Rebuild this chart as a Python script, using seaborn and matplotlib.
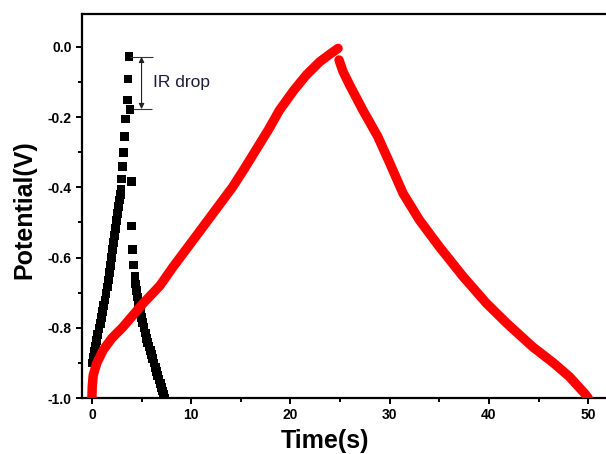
import matplotlib
matplotlib.use("Agg")
import matplotlib.pyplot as plt
import seaborn as sns
from matplotlib.ticker import MultipleLocator

# black squares: fast charge / discharge
black_t = [0.0, 0.12, 0.24, 0.36, 0.48, 0.6, 0.72, 0.84, 0.96, 1.08, 1.2, 1.31, 1.42, 1.53,
           1.64, 1.75, 1.86, 1.97, 2.08, 2.18, 2.28, 2.38, 2.48, 2.57, 2.66, 2.75, 2.84, 2.92,
           2.99, 3.09, 3.22, 3.32, 3.39, 3.56, 3.63, 3.73,
           3.83, 3.95, 4.0, 4.1, 4.16, 4.33,
           4.42, 4.51, 4.6, 4.7, 4.8, 4.9, 5.0, 5.12, 5.24, 5.37, 5.5, 5.62, 5.75, 5.88,
           6.0, 6.12, 6.25, 6.38, 6.5, 6.62, 6.75, 6.88, 7.0, 7.1, 7.2, 7.3]
black_v = [-0.900, -0.884, -0.868, -0.852, -0.836, -0.820, -0.803, -0.787, -0.770, -0.753,
           -0.737, -0.721, -0.703, -0.684, -0.664, -0.643, -0.622, -0.600, -0.578, -0.558,
           -0.537, -0.516, -0.495, -0.475, -0.455, -0.436, -0.420, -0.405,
           -0.376, -0.340, -0.300, -0.254, -0.205, -0.151, -0.091, -0.028,
           -0.177, -0.384, -0.510, -0.576, -0.621, -0.654,
           -0.675, -0.694, -0.712, -0.727, -0.742, -0.757, -0.771, -0.786, -0.800, -0.815,
           -0.830, -0.841, -0.853, -0.864, -0.875, -0.887, -0.900, -0.912, -0.925, -0.936,
           -0.947, -0.958, -0.970, -0.980, -0.990, -1.000]

# red circles: slow charge
red_charge_t = [0.0, 0.03, 0.13, 0.5, 1.14, 2.0, 3.15, 5.17, 6.85, 8.19, 10.2, 11.2, 12.7, 14.2,
                15.4, 16.6, 17.8, 18.9, 20.3, 21.6, 22.96, 24.0, 24.8]
red_charge_v = [-1.0, -0.968, -0.935, -0.9, -0.863, -0.83, -0.797, -0.73, -0.68, -0.626, -0.55,
                -0.512, -0.455, -0.398, -0.345, -0.29, -0.235, -0.18, -0.125, -0.08, -0.042,
                -0.02, -0.004]
# red circles: slow discharge
red_dis_t = [24.9, 25.3, 26.0, 27.3, 28.8, 30.0, 31.35, 33.0, 35.0, 37.4, 39.75, 41.8, 44.4,
             46.5, 48.1, 49.65, 50.0]
red_dis_v = [-0.037, -0.07, -0.11, -0.18, -0.255, -0.33, -0.417, -0.493, -0.569, -0.654, -0.73,
             -0.787, -0.854, -0.90, -0.939, -0.987, -1.0]

sns.set_style("ticks")
plt.rcParams['font.family'] = ['Liberation Sans', 'DejaVu Sans']
plt.rcParams['text.color'] = 'black'
plt.rcParams['axes.labelcolor'] = 'black'
plt.rcParams['xtick.color'] = 'black'
plt.rcParams['ytick.color'] = 'black'

fig = plt.figure(figsize=(6.06, 4.54), dpi=100)
ax = fig.add_axes([82 / 606, 1 - 398 / 454, 524 / 606, 384 / 454])

sns.scatterplot(x=black_t, y=black_v, marker='s', s=40, color='black', edgecolor='none',
                linewidth=0, ax=ax, zorder=2)
for t, v in [(red_charge_t, red_charge_v), (red_dis_t, red_dis_v)]:
    sns.lineplot(x=t, y=v, sort=False, estimator=None, color='red', lw=6.8,
                 solid_capstyle='round', solid_joinstyle='round', ax=ax, zorder=3)

# IR drop marker
ir_top = max(black_v)
ir_bottom = black_v[black_v.index(ir_top) + 1]
ax.hlines(ir_top, 3.85, 6.2, color='#333333', lw=0.8)
ax.hlines(ir_bottom, 4.1, 6.1, color='#333333', lw=0.8)
ax.annotate('', xy=(5.0, ir_bottom), xytext=(5.0, ir_top),
            arrowprops=dict(arrowstyle='<|-|>', color='#222222', lw=0.8,
                            mutation_scale=8, shrinkA=0, shrinkB=0))
ax.text(6.15, (ir_top + ir_bottom) / 2, 'IR drop', fontsize=12.5, color='#1c1c3a',
        va='center', ha='left')

ax.set_xlim(-1, 51.8)
ax.set_ylim(-1.0, 0.094)
ax.xaxis.set_major_locator(MultipleLocator(10))
ax.xaxis.set_minor_locator(MultipleLocator(5))
ax.yaxis.set_major_locator(MultipleLocator(0.2))
ax.yaxis.set_minor_locator(MultipleLocator(0.1))
ax.yaxis.set_major_formatter(matplotlib.ticker.FormatStrFormatter('%.1f'))

ax.tick_params(which='major', direction='out', length=4.5, width=1.4, labelsize=10, pad=3)
ax.tick_params(which='minor', direction='out', length=3, width=1.4)
for lab in ax.get_xticklabels() + ax.get_yticklabels():
    lab.set_fontweight('bold')

ax.spines['right'].set_visible(False)
for s in ['left', 'bottom', 'top']:
    ax.spines[s].set_linewidth(1.6)
    ax.spines[s].set_color('black')

ax.set_xlabel('Time(s)', fontsize=18, fontweight='bold')
ax.set_ylabel('Potential(V)', fontsize=18, fontweight='bold')
ax.xaxis.set_label_coords(0.464, -0.08)
ax.yaxis.set_label_coords(-0.088, 0.49)

fig.savefig('out.png', dpi=100)
